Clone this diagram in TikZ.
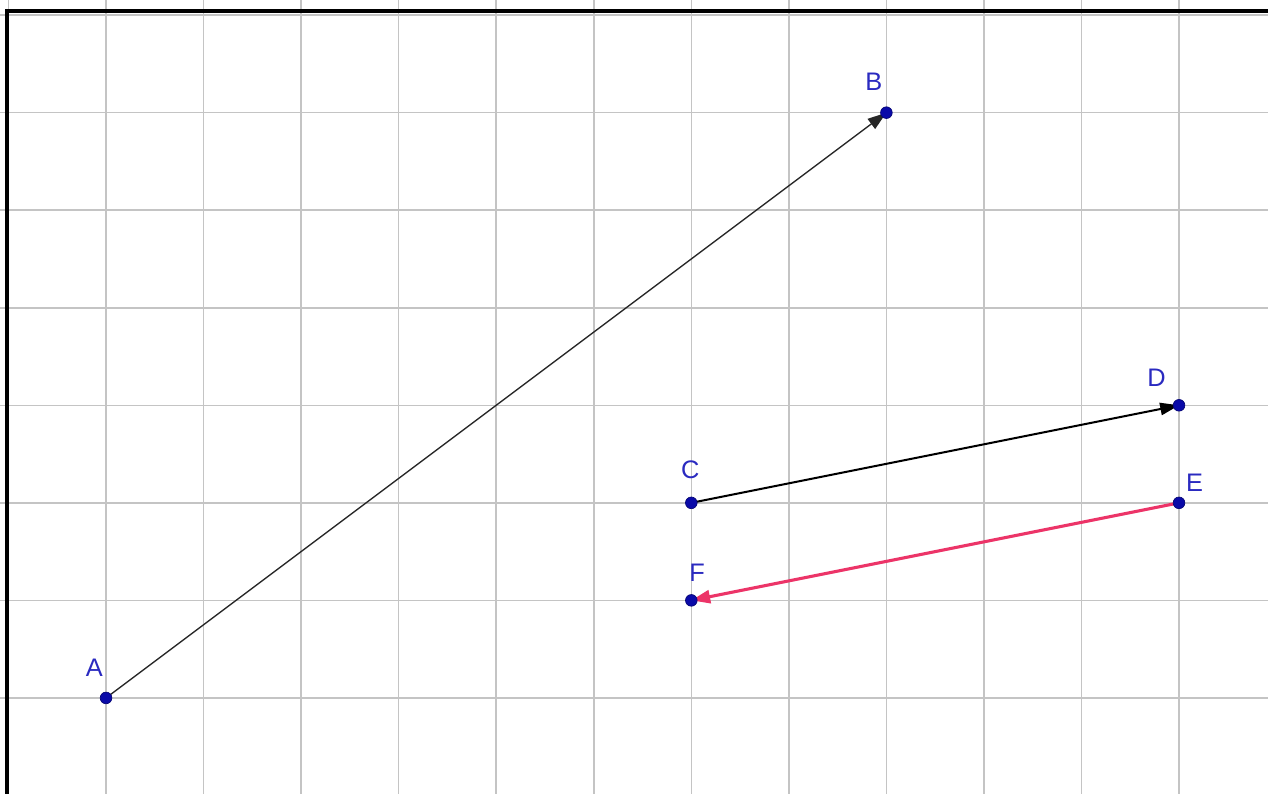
\documentclass[tikz,border=0pt]{standalone}
\usepackage{fontspec}
\setmainfont{Liberation Sans}
\usepackage{tikz}
\usetikzlibrary{arrows.meta, positioning}
\definecolor{ptblue}{HTML}{0A0AA8}
\definecolor{lblblue}{HTML}{2A2AC0}
\definecolor{vecpink}{HTML}{EC3468}
\definecolor{gridgray}{HTML}{C4C4C4}

\begin{document}
\begin{tikzpicture}[
    gridline/.style={draw=gridgray, line width=0.45pt},
    frame/.style={draw=black, line width=1.2pt},
    pt/.style={circle, fill=ptblue, draw=ptblue!70!black, line width=0.2pt, inner sep=0pt, minimum size=3.4pt},
    lbl/.style={text=lblblue, font=\fontsize{7.4}{9}\selectfont, inner sep=0pt},
    vec/.style={-{Triangle[length=5.5pt, width=3.6pt]}, black!85, line width=0.4pt},
    vecbold/.style={-{Triangle[length=5.5pt, width=3.6pt]}, black, line width=0.6pt},
    vecred/.style={-{Triangle[length=5.5pt, width=3.8pt]}, vecpink, line width=0.9pt},
  ]
  \useasboundingbox (-1.087,-0.984) rectangle (11.912,7.155);

  % Grid
  \draw[gridline] (-1.087,-0.984) grid (11.912,7.155);
  \draw[frame] (-1.015,-0.984) -- (-1.015,7.042) -- (11.912,7.042);

  % Points
  \coordinate (A) at (0,0);
  \coordinate (B) at (8,6);
  \coordinate (C) at (6,2);
  \coordinate (D) at (11,3);
  \coordinate (E) at (11,2);
  \coordinate (F) at (6,1);

  % Vectors
  \draw[vec] (A) -- (B);
  \draw[vecbold] (C) -- (D);
  \draw[vecred] (E) -- (F);

  % Dots
  \node[pt] (pA) at (A) {};
  \node[pt] (pB) at (B) {};
  \node[pt] (pC) at (C) {};
  \node[pt] (pD) at (D) {};
  \node[pt] (pE) at (E) {};
  \node[pt] (pF) at (F) {};

  % Labels
  \node[lbl] (lA) at ([shift={(-0.12,0.31)}]A) {A};
  \node[lbl] (lB) at ([shift={(-0.13,0.32)}]B) {B};
  \node[lbl] (lC) at ([shift={(-0.01,0.34)}]C) {C};
  \node[lbl] (lD) at ([shift={(-0.23,0.28)}]D) {D};
  \node[lbl] (lE) at ([shift={(0.16,0.21)}]E) {E};
  \node[lbl] (lF) at ([shift={(0.06,0.28)}]F) {F};
\end{tikzpicture}
\end{document}
